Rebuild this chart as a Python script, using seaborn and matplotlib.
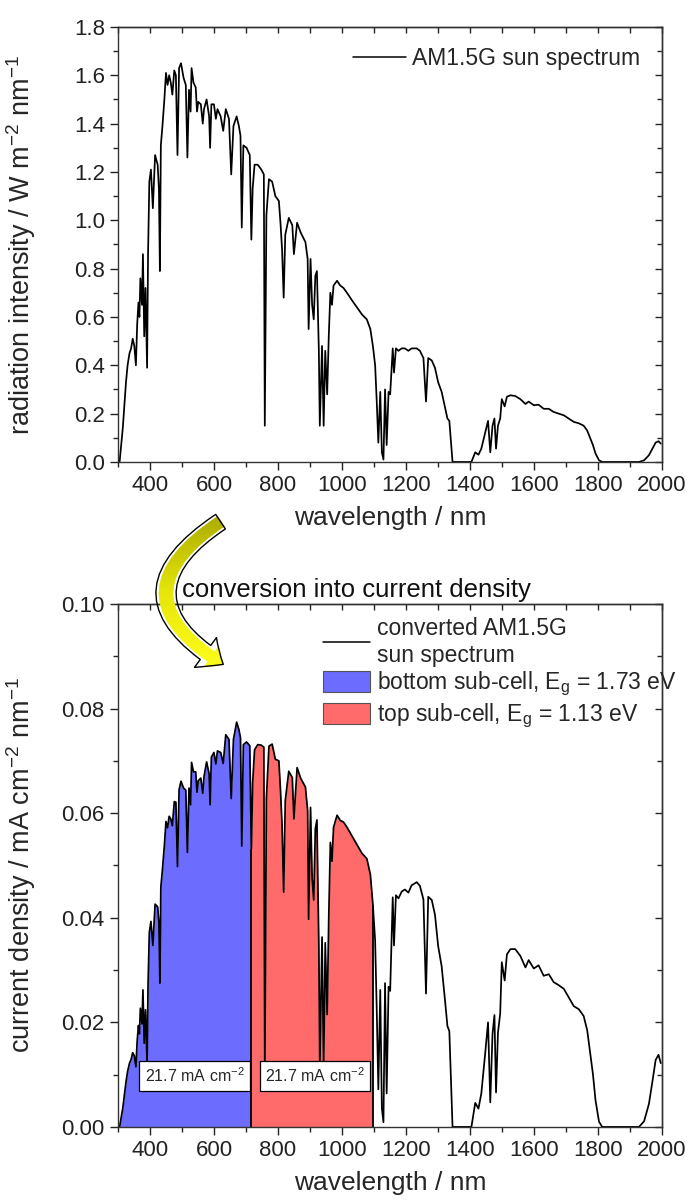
import numpy as np
import pandas as pd
import matplotlib
matplotlib.use('Agg')
import matplotlib.pyplot as plt
import seaborn as sns
from matplotlib.ticker import MultipleLocator, FormatStrFormatter
from matplotlib.lines import Line2D
from matplotlib.patches import Patch, FancyArrowPatch
from matplotlib.colors import LinearSegmentedColormap

# values
wavelength = [
    305, 315, 325, 330, 336, 341, 346, 351, 356, 360, 364, 367, 370, 375, 378, 382, 386, 391, 394, 398,
    403, 409, 416, 424, 428, 431, 434, 439, 445, 450, 455, 460, 465, 470, 476, 481, 486, 491, 497, 505,
    512, 517, 522, 527, 530, 536, 543, 547, 551, 559, 565, 569, 577, 585, 588, 592, 600, 606, 611, 621,
    629, 637, 647, 654, 661, 671, 678, 683, 687, 692, 702, 712, 717, 721, 727, 737, 748, 756, 759, 764,
    772, 782, 792, 803, 808, 813, 818, 823, 834, 845, 850, 860, 871, 886, 893, 896, 902, 907, 912, 917,
    922, 928, 931, 938, 943, 948, 954, 959, 964, 969, 974, 985, 995, 1005, 1016, 1031, 1047, 1063, 1078, 1089,
    1097, 1104, 1109, 1114, 1120, 1125, 1130, 1135, 1140, 1146, 1151, 1159, 1163, 1169, 1177, 1187, 1197, 1208, 1218, 1234,
    1244, 1255, 1263, 1270, 1281, 1291, 1301, 1312, 1322, 1330, 1336, 1340, 1346, 1405, 1417, 1427, 1436, 1448, 1457, 1464,
    1471, 1477, 1482, 1488, 1495, 1500, 1509, 1516, 1527, 1542, 1558, 1574, 1584, 1600, 1615, 1631, 1647, 1662, 1678, 1694,
    1709, 1725, 1741, 1756, 1767, 1777, 1785, 1793, 1804, 1814, 1929, 1945, 1960, 1971, 1981, 1990, 1997,
]
sun_spectrum = [
    0.0, 0.14, 0.33, 0.40, 0.45, 0.47, 0.51, 0.48, 0.40, 0.57, 0.66, 0.60, 0.76, 0.65, 0.86, 0.52, 0.72, 0.39, 0.86, 1.16,
    1.21, 1.05, 1.27, 1.23, 1.13, 0.79, 1.31, 1.39, 1.50, 1.61, 1.56, 1.60, 1.57, 1.52, 1.62, 1.60, 1.27, 1.63, 1.65, 1.59,
    1.56, 1.26, 1.54, 1.45, 1.63, 1.57, 1.55, 1.45, 1.49, 1.48, 1.40, 1.46, 1.50, 1.43, 1.30, 1.48, 1.48, 1.42, 1.46, 1.43,
    1.37, 1.46, 1.42, 1.19, 1.39, 1.43, 1.39, 1.35, 0.97, 1.31, 1.30, 1.27, 0.92, 1.13, 1.23, 1.23, 1.21, 1.19, 0.15, 1.02,
    1.17, 1.16, 1.10, 1.08, 0.99, 0.88, 0.68, 0.94, 1.01, 0.98, 0.86, 0.99, 0.95, 0.91, 0.84, 0.55, 0.84, 0.65, 0.59, 0.77,
    0.79, 0.46, 0.15, 0.48, 0.15, 0.46, 0.28, 0.52, 0.70, 0.65, 0.73, 0.75, 0.73, 0.72, 0.70, 0.67, 0.64, 0.61, 0.59, 0.55,
    0.48, 0.40, 0.25, 0.08, 0.29, 0.04, 0.01, 0.30, 0.07, 0.29, 0.28, 0.47, 0.37, 0.47, 0.46, 0.47, 0.47, 0.46, 0.47, 0.47,
    0.46, 0.43, 0.25, 0.43, 0.42, 0.39, 0.33, 0.29, 0.23, 0.18, 0.17, 0.10, 0.0, 0.0, 0.04, 0.03, 0.055, 0.12, 0.17, 0.04,
    0.15, 0.18, 0.055, 0.15, 0.18, 0.26, 0.23, 0.27, 0.276, 0.273, 0.26, 0.24, 0.25, 0.235, 0.237, 0.22, 0.22, 0.207, 0.20, 0.193,
    0.18, 0.166, 0.16, 0.15, 0.13, 0.097, 0.07, 0.035, 0.007, 0.0, 0.0, 0.007, 0.028, 0.055, 0.08, 0.086, 0.076,
]
current_density = [
    0.0, 0.0036, 0.0086, 0.0106, 0.0122, 0.0129, 0.0142, 0.0136, 0.0115, 0.0165, 0.0194, 0.0178, 0.0227, 0.0197, 0.0262, 0.0160, 0.0224, 0.0123, 0.0273, 0.0372,
    0.0393, 0.0347, 0.0426, 0.0421, 0.0390, 0.0275, 0.0459, 0.0492, 0.0538, 0.0584, 0.0572, 0.0594, 0.0589, 0.0576, 0.0622, 0.0621, 0.0498, 0.0645, 0.0661, 0.0648,
    0.0644, 0.0525, 0.0648, 0.0616, 0.0697, 0.0679, 0.0679, 0.0640, 0.0662, 0.0667, 0.0638, 0.0670, 0.0698, 0.0675, 0.0616, 0.0707, 0.0716, 0.0694, 0.0719, 0.0716,
    0.0695, 0.0750, 0.0741, 0.0628, 0.0741, 0.0774, 0.0760, 0.0744, 0.0537, 0.0731, 0.0736, 0.0729, 0.0532, 0.0657, 0.0721, 0.0731, 0.0730, 0.0726, 0.0092, 0.0628,
    0.0728, 0.0732, 0.0703, 0.0700, 0.0645, 0.0577, 0.0449, 0.0624, 0.0680, 0.0668, 0.0589, 0.0687, 0.0667, 0.0650, 0.0605, 0.0397, 0.0611, 0.0475, 0.0434, 0.0570,
    0.0587, 0.0344, 0.0113, 0.0363, 0.0114, 0.0352, 0.0215, 0.0402, 0.0544, 0.0508, 0.0573, 0.0596, 0.0586, 0.0583, 0.0573, 0.0557, 0.0540, 0.0523, 0.0513, 0.0483,
    0.0425, 0.0356, 0.0224, 0.0072, 0.0262, 0.0036, 0.0009, 0.0275, 0.0064, 0.0268, 0.0260, 0.0439, 0.0347, 0.0443, 0.0437, 0.0450, 0.0454, 0.0448, 0.0462, 0.0468,
    0.0461, 0.0435, 0.0255, 0.0440, 0.0434, 0.0406, 0.0346, 0.0307, 0.0245, 0.0193, 0.0183, 0.0108, 0.0, 0.0, 0.0046, 0.0035, 0.0064, 0.0140, 0.0200, 0.0047,
    0.0178, 0.0214, 0.0066, 0.0180, 0.0217, 0.0315, 0.0280, 0.0330, 0.0340, 0.0340, 0.0327, 0.0305, 0.0319, 0.0303, 0.0309, 0.0289, 0.0292, 0.0277, 0.0271, 0.0264,
    0.0248, 0.0231, 0.0225, 0.0212, 0.0185, 0.0139, 0.0101, 0.0051, 0.0010, 0.0, 0.0, 0.0011, 0.0044, 0.0087, 0.0128, 0.0138, 0.0122,
]
cell_edges = [717, 1097]
cell_labels = ['bottom sub-cell, E$_g$ = 1.73 eV', 'top sub-cell, E$_g$ = 1.13 eV']
cell_colors = ['#6C6CFF', '#FF6B6B']
cell_currents = ['21.7 mA cm$^{-2}$', '21.7 mA cm$^{-2}$']

df = pd.DataFrame({'wavelength': wavelength, 'sun': sun_spectrum, 'jsc': current_density})

sns.set_theme(style='ticks')
plt.rcParams['font.family'] = ['Liberation Sans', 'DejaVu Sans']
plt.rcParams['mathtext.default'] = 'regular'
plt.rcParams['axes.linewidth'] = 1.0

fig = plt.figure(figsize=(6.9, 12.04), dpi=100)
ax1 = fig.add_axes([0.171, 0.6163, 0.788, 0.3613])
ax2 = fig.add_axes([0.171, 0.064, 0.788, 0.4344])


def style_axes(ax, ymax, ymajor, yminor, yfmt):
    ax.set_xlim(300, 2000)
    ax.set_ylim(0, ymax)
    ax.xaxis.set_major_locator(MultipleLocator(200))
    ax.xaxis.set_minor_locator(MultipleLocator(100))
    ax.yaxis.set_major_locator(MultipleLocator(ymajor))
    ax.yaxis.set_minor_locator(MultipleLocator(yminor))
    ax.yaxis.set_major_formatter(FormatStrFormatter(yfmt))
    ax.tick_params(which='major', direction='out', length=6, width=1, labelsize=16, colors='#222222')
    ax.tick_params(which='minor', direction='out', length=3.5, width=1)
    for sp in ax.spines.values():
        sp.set_color('#333333')
    # mirrored ticks pointing inward on top/right
    top = ax.secondary_xaxis('top')
    top.xaxis.set_major_locator(MultipleLocator(200))
    top.xaxis.set_minor_locator(MultipleLocator(100))
    top.tick_params(which='both', direction='in', length=4, width=1, labeltop=False)
    right = ax.secondary_yaxis('right')
    right.yaxis.set_major_locator(MultipleLocator(ymajor))
    right.yaxis.set_minor_locator(MultipleLocator(yminor))
    right.tick_params(which='major', direction='in', length=5, width=1, labelright=False)
    right.tick_params(which='minor', direction='in', length=3.5, width=1, labelright=False)
    ax.set_xlabel('wavelength / nm', fontsize=19, labelpad=7)
    ax.yaxis.set_label_coords(-0.148, 0.5)


# top panel: sun spectrum
sns.lineplot(data=df, x='wavelength', y='sun', ax=ax1, color='black', lw=1.25,
             estimator=None, sort=False)
style_axes(ax1, 1.8, 0.2, 0.1, '%.1f')
ax1.set_ylabel('radiation intensity / W m$^{-2}$ nm$^{-1}$', fontsize=19.5)
ax1.legend(handles=[Line2D([], [], color='black', lw=1.1)], labels=['AM1.5G sun spectrum'],
           loc='upper right', bbox_to_anchor=(0.961, 0.955), frameon=False, fontsize=16.5,
           handlelength=2.3, handletextpad=0.3, borderpad=0, borderaxespad=0)

# bottom panel: current density with sub-cell areas
wl = df['wavelength'].to_numpy()
jj = df['jsc'].to_numpy()
starts = [wl[0], cell_edges[0]]
for a, b, col in zip(starts, cell_edges, cell_colors):
    m = (wl > a) & (wl < b)
    xs = np.r_[a, wl[m], b]
    ys = np.r_[np.interp(a, wl, jj), jj[m], np.interp(b, wl, jj)]
    ax2.fill_between(xs, 0, ys, color=col, lw=0)
for e in cell_edges:
    ax2.vlines(e, 0, np.interp(e, wl, jj), color='black', lw=1.3)
sns.lineplot(data=df, x='wavelength', y='jsc', ax=ax2, color='black', lw=1.25,
             estimator=None, sort=False)
style_axes(ax2, 0.10, 0.02, 0.01, '%.2f')
ax2.set_ylabel('current density / mA cm$^{-2}$ nm$^{-1}$', fontsize=19.5)

box_x = [539, 916]
for x, txt in zip(box_x, cell_currents):
    ax2.text(x, 0.00975, txt, ha='center', va='center', fontsize=11.5,
             bbox=dict(boxstyle='square,pad=0.35', facecolor='white', edgecolor='black', lw=0.9))

handles = [Line2D([], [], color='black', lw=1.1)] + \
          [Patch(facecolor=c, edgecolor='#555555', lw=0.8) for c in cell_colors]
labels = ['converted AM1.5G\nsun spectrum'] + cell_labels
ax2.legend(handles=handles, labels=labels, loc='upper left', bbox_to_anchor=(0.377, 0.975),
           frameon=False, fontsize=16.5, handlelength=2.05, handleheight=1.0,
           handletextpad=0.3, labelspacing=0.15, borderpad=0, borderaxespad=0)

# curved conversion arrow between the panels, olive-to-yellow gradient fill
arrow_kw = dict(posA=(0.323, 0.568), posB=(0.327, 0.447), transform=fig.transFigure,
                connectionstyle='arc3,rad=0.8',
                arrowstyle='simple,head_length=1.1,head_width=1.9,tail_width=0.9',
                mutation_scale=14)
clip_arrow = FancyArrowPatch(facecolor='none', edgecolor='none', **arrow_kw)
fig.patches.append(clip_arrow)
gax = fig.add_axes([0, 0, 1, 1])
gax.set_xlim(0, 1)
gax.set_ylim(0, 1)
gax.axis('off')
grad = np.linspace(0, 1, 256).reshape(-1, 1)
cmap = LinearSegmentedColormap.from_list('arrow', ['#FFFF1E', '#E6E60A', '#A9A900'])
img = gax.imshow(grad, extent=[0.2, 0.36, 0.44, 0.575], origin='lower', aspect='auto', cmap=cmap)
img.set_clip_path(clip_arrow)
outline = FancyArrowPatch(facecolor='none', edgecolor='black', lw=1.0, **arrow_kw)
fig.patches.append(outline)

fig.text(0.517, 0.510, 'conversion into current density', ha='center', va='center', fontsize=18.5,
         color='#111111')

fig.savefig('out.png', dpi=100)
